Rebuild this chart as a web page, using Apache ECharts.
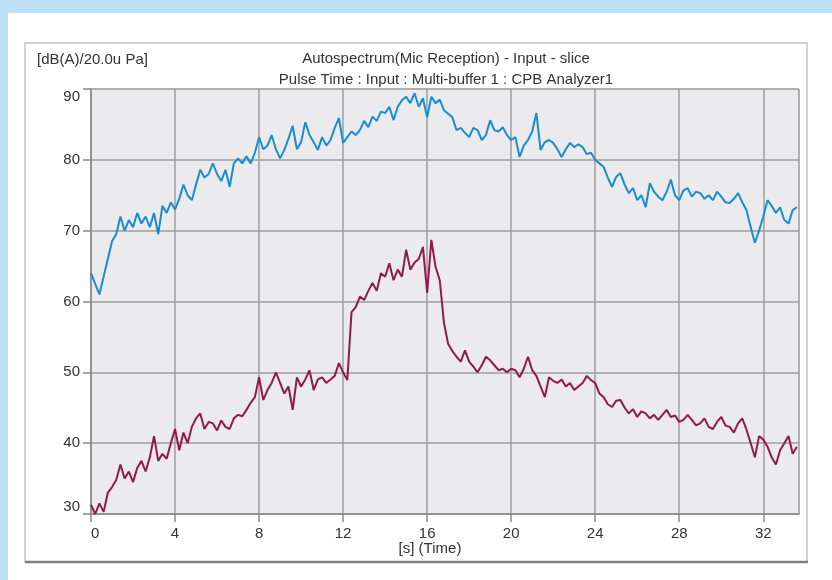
<!DOCTYPE html>
<html>
<head>
<meta charset="utf-8">
<script src="https://cdn.jsdelivr.net/npm/echarts@6/dist/echarts.min.js"></script>
<style>
html,body{margin:0;padding:0;background:#bde0f6;}
#chart{width:832px;height:580px;}
</style>
</head>
<body>
<div id="chart"></div>
<script>
const unitLabel = '[dB(A)/20.0u Pa]';
const titleLine1 = 'Autospectrum(Mic Reception) - Input - slice';
const titleLine2 = 'Pulse Time : Input : Multi-buffer 1 : CPB Analyzer1';
const xAxisName = '[s] (Time)';

const time = [
  0,0.2,0.4,0.6,0.8,1,1.2,1.4,1.6,1.8,
  2,2.2,2.4,2.6,2.8,3,3.2,3.4,3.6,3.8,
  4,4.2,4.4,4.6,4.8,5,5.2,5.4,5.6,5.8,
  6,6.2,6.4,6.6,6.8,7,7.2,7.4,7.6,7.8,
  8,8.2,8.4,8.6,8.8,9,9.2,9.4,9.6,9.8,
  10,10.2,10.4,10.6,10.8,11,11.2,11.4,11.6,11.8,
  12,12.2,12.4,12.6,12.8,13,13.2,13.4,13.6,13.8,
  14,14.2,14.4,14.6,14.8,15,15.2,15.4,15.6,15.8,
  16,16.2,16.4,16.6,16.8,17,17.2,17.4,17.6,17.8,
  18,18.2,18.4,18.6,18.8,19,19.2,19.4,19.6,19.8,
  20,20.2,20.4,20.6,20.8,21,21.2,21.4,21.6,21.8,
  22,22.2,22.4,22.6,22.8,23,23.2,23.4,23.6,23.8,
  24,24.2,24.4,24.6,24.8,25,25.2,25.4,25.6,25.8,
  26,26.2,26.4,26.6,26.8,27,27.2,27.4,27.6,27.8,
  28,28.2,28.4,28.6,28.8,29,29.2,29.4,29.6,29.8,
  30,30.2,30.4,30.6,30.8,31,31.2,31.4,31.6,31.8,
  32,32.2,32.4,32.6,32.8,33,33.2,33.4,33.6
];

const blueLevel = [
  64.0,62.5,61.0,63.5,66.0,68.5,69.5,72.0,70.0,71.5,
  70.5,72.5,71.0,72.0,70.5,72.5,69.5,73.5,72.5,74.0,
  73.0,74.5,76.5,75.0,74.3,76.5,78.6,77.5,78.0,79.5,
  78.0,77.0,78.6,76.2,79.5,80.2,79.5,80.5,79.5,81.0,
  83.2,81.5,82.0,83.5,81.5,80.2,81.4,83.0,84.8,81.5,
  82.5,85.3,83.5,82.5,81.4,83.2,82.0,82.8,84.5,85.9,
  82.4,83.2,84.0,83.5,84.2,85.5,84.6,86.1,85.5,86.8,
  86.6,87.5,85.6,87.5,88.4,88.9,88.0,89.4,87.5,88.7,
  86.0,88.9,88.0,88.5,87.0,86.5,86.0,84.2,84.5,83.8,
  83.2,84.5,84.2,82.8,83.5,85.6,84.2,84.0,84.6,83.5,
  82.8,83.2,80.4,82.0,82.8,84.0,86.6,81.4,82.5,82.8,
  82.4,81.5,80.4,81.5,82.4,81.8,82.2,81.8,80.8,81.0,
  80.0,79.5,79.0,77.5,76.2,77.6,78.1,76.5,75.3,76.0,
  74.3,75.0,73.3,76.7,75.5,74.8,74.3,75.5,77.2,75.0,
  74.3,75.7,76.0,74.8,75.5,75.3,74.5,75.0,74.3,75.5,
  74.8,74.0,73.9,74.5,75.3,74.0,72.9,70.5,68.3,70.0,
  72.0,74.3,73.5,72.5,73.3,71.5,71.0,72.9,73.3
];

const redLevel = [
  31.3,30.0,31.5,30.3,33.0,33.8,34.8,37.0,35.0,36.0,
  34.5,36.5,37.5,36.0,38.0,41.0,37.5,38.5,37.8,40.0,
  42.0,39.0,41.5,40.0,42.3,43.5,44.2,42.0,43.0,42.8,
  41.8,43.2,42.3,42.0,43.5,44.0,43.8,44.7,45.7,46.5,
  49.3,46.1,47.5,48.5,50.0,48.5,47.0,48.0,44.7,49.3,
  48.0,49.0,50.3,47.5,49.0,49.3,48.5,49.0,49.5,51.3,
  50.0,48.9,58.5,59.2,60.7,60.2,61.5,62.6,61.5,64.0,
  63.5,65.4,63.0,64.5,63.5,67.3,64.5,65.5,66.0,67.7,
  61.2,68.7,64.9,63.0,57.0,54.0,53.0,52.2,51.5,53.1,
  51.5,50.8,50.0,51.0,52.2,51.7,51.0,50.3,50.5,50.0,
  50.5,50.3,49.3,50.5,52.2,50.3,49.5,48.0,46.5,49.3,
  48.8,48.5,49.0,48.0,48.5,47.5,48.0,48.5,49.5,48.9,
  48.5,47.0,46.5,45.5,45.1,46.0,46.1,45.0,44.2,44.8,
  43.7,44.5,44.2,43.5,44.0,43.3,44.0,44.7,43.7,43.9,
  43.0,43.3,44.0,43.3,42.5,42.8,43.5,42.3,42.0,43.0,
  43.7,42.5,42.3,41.5,42.8,43.5,41.9,40.0,38.0,41.0,
  40.5,39.5,38.0,37.0,39.0,40.0,41.0,38.5,39.5
];

const chart = echarts.init(document.getElementById('chart'), null, {renderer: 'canvas'});
const font = '"Liberation Sans", Arial, sans-serif';
const textColor = '#333333';

chart.setOption({
  animation: false,
  backgroundColor: '#bde0f6',
  graphic: [
    {type: 'rect', z: -100, shape: {x: 8, y: 13, width: 824, height: 567}, style: {fill: '#ffffff'}, silent: true},
    {type: 'rect', z: -99, shape: {x: 25, y: 43, width: 782, height: 519}, style: {fill: '#ffffff', stroke: '#c4c4c4', lineWidth: 1.5}, silent: true},
    {type: 'line', z: -98, shape: {x1: 25, y1: 562, x2: 808, y2: 562}, style: {stroke: '#808080', lineWidth: 2.5}, silent: true},
    {type: 'text', left: 37, top: 52, style: {text: unitLabel, font: '15px ' + font, fill: textColor}},
    {type: 'text', x: 446, y: 59, style: {text: titleLine1, font: '15px ' + font, fill: textColor, align: 'center', verticalAlign: 'middle'}},
    {type: 'text', x: 446, y: 80, style: {text: titleLine2, font: '15px ' + font, fill: textColor, align: 'center', verticalAlign: 'middle'}},
    {type: 'text', x: 430, y: 549, style: {text: xAxisName, font: '15px ' + font, fill: textColor, align: 'center', verticalAlign: 'middle'}}
  ],
  grid: {
    left: 91, top: 89, right: 33, bottom: 66,
    show: true, backgroundColor: '#ebebed', borderColor: '#d0d0d0', borderWidth: 1
  },
  xAxis: {
    type: 'value', min: 0, max: 33.7, interval: 4,
    axisLine: {show: true, lineStyle: {color: '#8a8a8a', width: 1.5}},
    axisTick: {show: true, inside: false, length: 8, lineStyle: {color: '#8a8a8a', width: 1.5}},
    axisLabel: {color: textColor, fontSize: 15, fontFamily: font, margin: 12, alignMinLabel: 'left', showMaxLabel: false},
    splitLine: {show: true, lineStyle: {color: '#9e9e9e', width: 1.5}}
  },
  yAxis: {
    type: 'value', min: 30, max: 90, interval: 10,
    axisLine: {show: true, lineStyle: {color: '#8a8a8a', width: 1.5}},
    axisTick: {show: true, inside: false, length: 8, lineStyle: {color: '#8a8a8a', width: 1.5}},
    axisLabel: {color: textColor, fontSize: 15, fontFamily: font, margin: 11, verticalAlignMinLabel: 'bottom', verticalAlignMaxLabel: 'top'},
    splitLine: {show: true, lineStyle: {color: '#9e9e9e', width: 1.5}}
  },
  series: [
    {
      name: 'Blue', type: 'line', showSymbol: false, silent: true,
      lineStyle: {color: '#1a8cd0', width: 2},
      data: time.map((t, i) => [t, blueLevel[i]])
    },
    {
      name: 'Red', type: 'line', showSymbol: false, silent: true,
      lineStyle: {color: '#931a48', width: 2},
      data: time.map((t, i) => [t, redLevel[i]])
    }
  ]
});
</script>
</body>
</html>
